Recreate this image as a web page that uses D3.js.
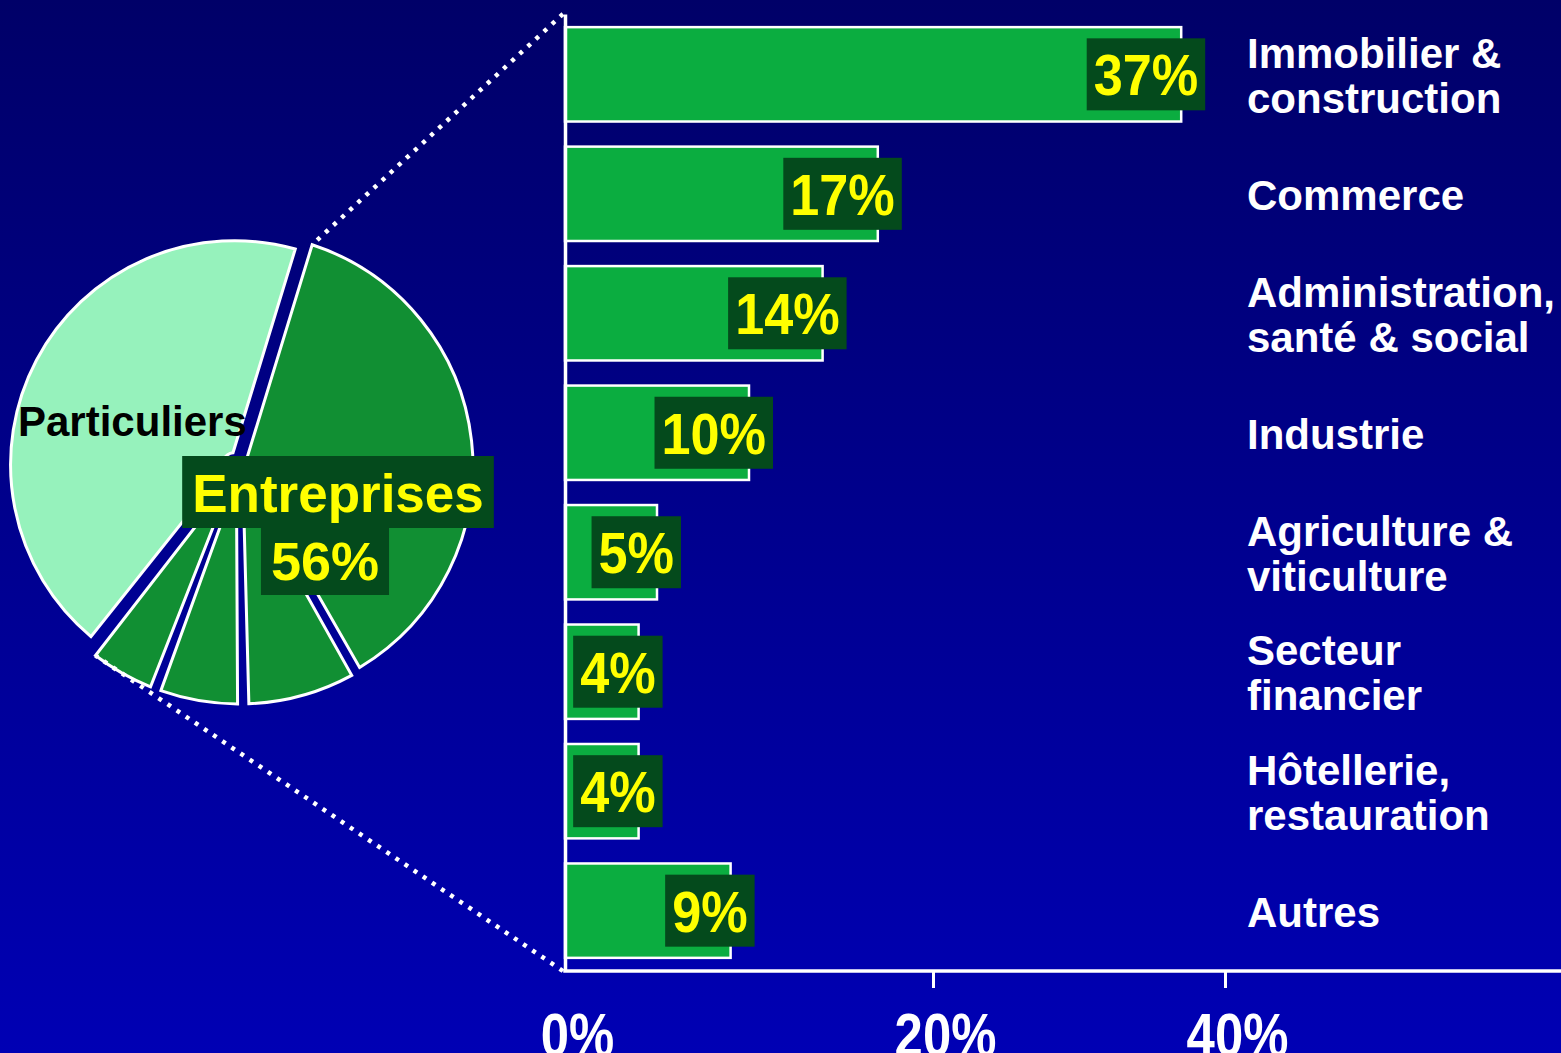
<!DOCTYPE html>
<html><head><meta charset="utf-8">
<script src="https://cdn.jsdelivr.net/npm/d3@7"></script>
<style>html,body{margin:0;padding:0;background:#00008a;overflow:hidden}svg{display:block}</style>
</head><body>
<svg id="chart" width="1561" height="1053"></svg>
<script>
// ---- data ----
const categories = ["Immobilier &\nconstruction", "Commerce", "Administration,\nsanté & social", "Industrie",
  "Agriculture &\nviticulture", "Secteur\nfinancier", "Hôtellerie,\nrestauration", "Autres"];
const shares = [37, 17, 14, 10, 5, 4, 4, 9];
const tickValues = [0, 20, 40];
const tickLabels = ["0%", "20%", "40%"];
const pieGroups = ["Entreprises", "Entreprises", "Entreprises", "Entreprises", "Particuliers"];
const pieValues = [37, 8, 6, 5, 44];
const entreprisesLabel = "Entreprises";
const entreprisesShare = "56%";
const particuliersLabel = "Particuliers";

// ---- drawing ----
const W = 1561, H = 1053;
const FONT = "'Liberation Sans', Arial, Helvetica, sans-serif";
const svg = d3.select("#chart");
const defs = svg.append("defs");
const grad = defs.append("linearGradient").attr("id", "bg")
  .attr("gradientUnits", "userSpaceOnUse").attr("x1", 0).attr("y1", 0).attr("x2", 0).attr("y2", H);
grad.append("stop").attr("offset", "0%").attr("stop-color", "#000068");
grad.append("stop").attr("offset", "100%").attr("stop-color", "#0000b4");
svg.append("rect").attr("width", W).attr("height", H).attr("fill", "url(#bg)");

const x = d3.scaleLinear().domain([0, 20, 40]).range([565, 933, 1225]);
const y = d3.scaleBand().domain(d3.range(categories.length)).range([14, 971])
  .paddingInner(0.21).paddingOuter(0.11);

// bars
const bars = svg.append("g");
bars.selectAll("rect").data(shares).join("rect")
  .attr("x", x(0))
  .attr("y", (d, i) => y(i))
  .attr("width", d => x(d) - x(0))
  .attr("height", y.bandwidth())
  .attr("fill", "#0bad40")
  .attr("stroke", "#ffffff")
  .attr("stroke-width", 2.5);

// bar value labels
const labG = svg.append("g");
const SX = 0.9;
shares.forEach((v, i) => {
  const cy = y(i) + y.bandwidth() / 2;
  const g = labG.append("g");
  const t = g.append("text")
    .attr("font-family", FONT).attr("font-weight", "bold").attr("font-size", 58)
    .attr("fill", "#ffff00").attr("text-anchor", "middle")
    .text(v + "%");
  const w = t.node().getBBox().width * SX + 14;
  const right = x(v) + 24;
  const cx = right - w / 2;
  g.insert("rect", "text")
    .attr("x", right - w).attr("y", cy - 36).attr("width", w).attr("height", 72)
    .attr("fill", "#044a1c");
  t.attr("transform", `translate(${cx},${cy + 21}) scale(${SX},1)`);
});

// y axis
svg.append("g").attr("transform", `translate(${x(0)},0)`)
  .call(d3.axisLeft(y).tickSize(0).tickSizeOuter(0).tickFormat(""))
  .call(g => g.select(".domain").attr("stroke", "#fff").attr("stroke-width", 3.5))
  .call(g => g.selectAll(".tick").remove());

// x axis
const xAxisY = 971;
svg.append("line").attr("x1", x(0) - 1.75).attr("x2", W).attr("y1", xAxisY).attr("y2", xAxisY)
  .attr("stroke", "#fff").attr("stroke-width", 3.5);
svg.append("g").attr("transform", `translate(0,${xAxisY})`)
  .call(d3.axisBottom(x).tickValues(tickValues).tickSize(17).tickSizeOuter(0)
    .tickFormat((d, i) => tickLabels[i]))
  .call(g => g.select(".domain").remove())
  .call(g => g.selectAll(".tick line").attr("stroke", "#fff").attr("stroke-width", 3)
    .attr("display", d => d === 0 ? "none" : null))
  .call(g => g.selectAll(".tick text")
    .attr("fill", "#fff").attr("font-family", FONT).attr("font-weight", "bold")
    .attr("font-size", 62).attr("y", 0).attr("dy", 0)
    .attr("transform", "translate(12,85) scale(0.82,1)"));

// pie
const deg = Math.PI / 180;
const O = [239, 467];
const padR = 100, padA = 0.10;
const pie = d3.pie().sort(null).value(d => d)
  .startAngle(17 * deg).endAngle(377 * deg);
const arcs = pie(pieValues).map((a, i) => {
  const isP = pieGroups[i] === "Particuliers";
  a.r = isP ? 224 : 234;
  a.explode = isP ? 5 : (i === 0 ? 0 : 3);
  const mid = (a.startAngle + a.endAngle) / 2;
  a.cx = O[0] + a.explode * Math.sin(mid);
  a.cy = O[1] - a.explode * Math.cos(mid);
  return a;
});
const arc = d3.arc().innerRadius(12).outerRadius(d => d.r).padRadius(padR).padAngle(padA);
svg.append("g").selectAll("path").data(arcs).join("path")
  .attr("transform", d => `translate(${d.cx},${d.cy})`)
  .attr("d", arc)
  .attr("fill", (d, i) => pieGroups[i] === "Particuliers" ? "#96f2bc" : "#118f33")
  .attr("stroke", "#fff").attr("stroke-width", 3).attr("stroke-linejoin", "miter");

// corner helper
function corner(a, which) {
  const p = Math.asin(padR * Math.sin(padA / 2) / a.r);
  const ang = which === "start" ? a.startAngle + p : a.endAngle - p;
  return [a.cx + a.r * Math.sin(ang), a.cy - a.r * Math.cos(ang)];
}
const c1 = corner(arcs[0], "start");
const c2 = corner(arcs[3], "end");
const dots = svg.append("g").attr("stroke", "#fff").attr("stroke-width", 4.5).attr("stroke-dasharray", "4 7").attr("fill", "none");
dots.append("line").attr("x1", x(0) - 2).attr("y1", 14).attr("x2", c1[0]).attr("y2", c1[1]);
dots.append("line").attr("x1", x(0) - 2).attr("y1", xAxisY).attr("x2", c2[0]).attr("y2", c2[1]);

// pie labels
svg.append("text").attr("x", 18).attr("y", 436)
  .attr("font-family", FONT).attr("font-weight", "bold").attr("font-size", 42)
  .attr("fill", "#000").text(particuliersLabel);

function boxedText(txt, cx, baseline, size, top, bottom) {
  const g = svg.append("g");
  const t = g.append("text").attr("x", cx).attr("y", baseline).attr("text-anchor", "middle")
    .attr("font-family", FONT).attr("font-weight", "bold").attr("font-size", size)
    .attr("fill", "#ffff00").text(txt);
  const bb = t.node().getBBox();
  g.insert("rect", "text").attr("x", bb.x - 10).attr("width", bb.width + 20)
    .attr("y", baseline - top).attr("height", top + bottom).attr("fill", "#044a1c");
}
boxedText(entreprisesLabel, 338, 512, 53, 56, 16);
boxedText(entreprisesShare, 325, 580, 54, 52, 15);

// category labels
const catG = svg.append("g");
categories.forEach((c, i) => {
  const lines = c.split("\n");
  const cy = y(i) + y.bandwidth() / 2;
  const t = catG.append("text").attr("font-family", FONT).attr("font-weight", "bold")
    .attr("font-size", 42).attr("fill", "#fff");
  lines.forEach((l, k) => {
    t.append("tspan").attr("x", 1247).attr("y", cy + 16 - (lines.length - 1) * 22.5 + k * 45).text(l);
  });
});
</script>
</body></html>
